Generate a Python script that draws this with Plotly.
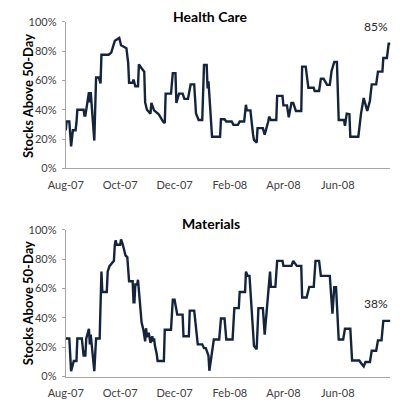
import pandas as pd
import plotly.graph_objects as go
from plotly.subplots import make_subplots

START = "2007-08-01"

# Health Care: days since start, % of stocks above 50-day MA
hc_days = [0, 1, 4, 6, 8, 11, 12, 13, 20, 21, 22, 24, 26, 27, 28, 32, 34, 37, 39, 40,
           48, 51, 53, 55, 60, 62, 68, 70, 71, 75, 76, 78, 81, 82, 85, 88, 89, 91, 95, 96,
           99, 104, 106, 109, 111, 112, 118, 120, 123, 124, 127, 131, 133, 137, 140, 144, 146, 149, 153, 155,
           158, 159, 160, 164, 173, 174, 178, 180, 186, 188, 193, 195, 200, 202, 203, 207, 210, 211, 214, 215,
           221, 223, 227, 228, 230, 236, 237, 243, 244, 248, 250, 253, 255, 258, 264, 265, 269, 272, 278, 279,
           284, 286, 289, 293, 296, 298, 301, 304, 306, 312, 313, 315, 318, 319, 328, 331, 334, 338, 341, 343,
           348, 350, 355, 356, 360, 362, 364]
hc_vals = [26, 32, 32, 15, 26, 26, 31, 40, 40, 36, 36, 45, 52, 45, 52, 19, 62, 62, 58, 77.5,
           77.5, 79, 82.5, 87, 89, 84, 82, 72, 58.4, 58.4, 60.6, 56, 56, 71, 68.3, 66, 45, 40, 37.4, 44.7,
           39.6, 37, 35.2, 32, 31, 51, 51, 65, 65, 44.7, 51, 51, 47.4, 47.4, 57.3, 57.3, 37.4, 33, 33, 70.5,
           70.5, 54.6, 59.4, 21.6, 21.6, 33.5, 33.5, 32, 32, 29.7, 29.7, 32, 32, 43.4, 39.6, 39.6, 23, 19.4, 17.6, 27.5,
           27.5, 23, 32, 35.3, 33, 33, 49.5, 49.5, 43, 43, 34.8, 44.7, 44.7, 39.2, 39.2, 69.4, 69.4, 55, 55, 52.8,
           52.8, 61.2, 61.2, 57, 57, 66.5, 72.6, 72.6, 33, 33, 29, 37.4, 37, 21.6, 21.6, 37.4, 48, 39.2, 46.2, 57.3,
           57.3, 66, 66, 75.3, 75.3, 85, 85]

# Materials
mat_days = [0, 4, 6, 9, 12, 13, 18, 20, 22, 23, 26, 27, 28, 32, 34, 38, 40, 41, 46, 47,
            49, 52, 54, 55, 56, 57, 61, 62, 64, 67, 69, 71, 75, 76, 77, 78, 80, 81, 85, 87,
            89, 90, 91, 93, 95, 97, 98, 99, 100, 102, 103, 110, 111, 118, 120, 122, 125, 131, 132, 138,
            139, 144, 146, 148, 153, 155, 157, 160, 161, 166, 172, 174, 178, 180, 187, 189, 194, 195, 201, 202,
            204, 206, 211, 214, 216, 221, 223, 227, 229, 230, 235, 237, 243, 244, 253, 255, 259, 264, 265, 270,
            273, 278, 280, 284, 286, 296, 299, 301, 303, 306, 311, 313, 319, 321, 329, 331, 334, 336, 341, 343,
            348, 350, 354, 356, 364]
mat_vals = [26, 26, 3.7, 10.6, 10.6, 26, 26, 14.3, 14.3, 26, 32.6, 22, 28.6, 3.7, 26, 26, 71.6, 57.7, 57.7, 71.6,
            75.3, 77.5, 79, 89.9, 93, 89.9, 89.9, 93.6, 89.9, 82.6, 81.5, 65, 65, 50.7, 50.7, 62.8, 62.8, 66, 37, 32,
            24, 33, 27, 30, 23, 27.5, 24, 26, 21, 15.4, 10.6, 10.6, 32, 32, 52.4, 52.4, 42.3, 42.3, 27.5, 27.5,
            45, 45, 32.6, 22, 22, 19.4, 19.4, 14.3, 4, 25.3, 25.3, 39.6, 39.6, 25.3, 25.3, 46.7, 46.7, 57.7, 57.7, 71.6,
            68.7, 68.7, 21, 18.7, 46.7, 46.7, 28.6, 61.2, 71.6, 61.2, 61.2, 78.9, 78.9, 75.5, 75.5, 78.9, 75.5, 75.5, 54, 54,
            61.2, 61.2, 78.9, 78.9, 68.7, 68.7, 43, 61, 61, 25.3, 25.3, 32.6, 32.6, 11, 11, 9.3, 7, 10, 10, 17.6,
            17.6, 24.7, 24.7, 38, 38]

titles = ["Health Care", "Materials"]
last_labels = ["85%", "38%"]
tick_dates = ["2007-08-01", "2007-10-01", "2007-12-01", "2008-02-01", "2008-04-01", "2008-06-01"]
y_ticks = [0, 20, 40, 60, 80, 100]
y_ticktext = ["0%", "20%", "40%", "60%", "80%", "100%"]

start = pd.Timestamp(START)
hc_x = start + pd.to_timedelta(hc_days, unit="D")
mat_x = start + pd.to_timedelta(mat_days, unit="D")
x_end = start + pd.Timedelta(days=364)

LINE = "#14243d"
AXIS = "#a6a6a6"
TXT = "#404040"
FONT = "Lato"

fig = make_subplots(rows=2, cols=1)
fig.add_trace(go.Scatter(x=hc_x, y=hc_vals, mode="lines",
                         line=dict(color=LINE, width=2.4)), row=1, col=1)
fig.add_trace(go.Scatter(x=mat_x, y=mat_vals, mode="lines",
                         line=dict(color=LINE, width=2.4)), row=2, col=1)

xcommon = dict(type="date", range=[start, x_end], tickvals=tick_dates, tickformat="%b-%y",
               showline=True, linecolor=AXIS, linewidth=1, showgrid=False, zeroline=False,
               ticks="", ticklabelstandoff=6, tickfont=dict(family=FONT, size=11, color=TXT))
ycommon = dict(range=[0, 100], tickvals=y_ticks, ticktext=y_ticktext, showline=True, linecolor=AXIS,
               linewidth=1, showgrid=False, zeroline=False, ticks="outside", ticklen=3,
               tickcolor=AXIS, ticklabelstandoff=3, tickfont=dict(family=FONT, size=11, color=TXT))

fig.update_layout(
    width=400, height=409, margin=dict(l=0, r=0, t=0, b=0),
    paper_bgcolor="white", plot_bgcolor="white", showlegend=False,
    xaxis=dict(domain=[0.125, 0.975], **xcommon),
    xaxis2=dict(domain=[0.125, 0.975], **xcommon),
    yaxis=dict(domain=[0.5924, 0.9626], **ycommon),
    yaxis2=dict(domain=[0.0667, 0.4369], **ycommon),
)

title_y = [0.9756, 0.4523]
axis_title_y = [0.775, 0.252]
last_vals = [hc_vals[-1], mat_vals[-1]]
for i in range(2):
    fig.add_annotation(text="<b>" + titles[i] + "</b>", xref="paper", yref="paper",
                       x=0.505, y=title_y[i], xanchor="center", yanchor="middle", showarrow=False,
                       font=dict(family=FONT, size=14, color="#000000"))
    fig.add_annotation(text="<b>Stocks Above 50-Day</b>", xref="paper", yref="paper",
                       x=0.026, y=axis_title_y[i], xanchor="center", yanchor="middle",
                       textangle=-90, showarrow=False,
                       font=dict(family=FONT, size=13, color="#000000"))
    fig.add_annotation(text=last_labels[i], xref="x" if i == 0 else "x2",
                       yref="y" if i == 0 else "y2",
                       x=x_end, y=last_vals[i], xanchor="right", yanchor="bottom", yshift=8,
                       showarrow=False, font=dict(family=FONT, size=12, color="#262626"))

fig.write_html("out.html")
